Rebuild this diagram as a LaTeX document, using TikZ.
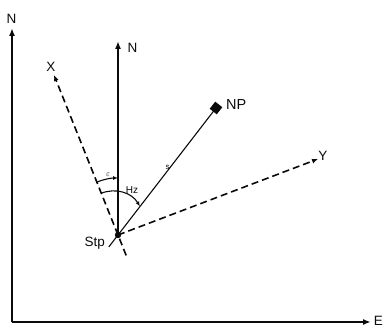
\documentclass[tikz,border=0pt]{standalone}
\usepackage{fontspec}
\setmainfont{Liberation Sans}
\usetikzlibrary{calc,arrows.meta,positioning}
\definecolor{cInk}{RGB}{10,10,10}

\begin{document}
\begin{tikzpicture}[x=1pt,y=1pt,cInk,
  axis/.style={line width=1.8pt,-{Latex[length=8pt,width=6pt]}},
  axdash/.style={line width=1.6pt,dash pattern=on 7pt off 4pt,-{Latex[length=6pt,width=5pt]}},
  lbl/.style={font=\fontsize{13.5}{14}\selectfont,inner sep=0pt},
  small/.style={font=\fontsize{10}{10}\selectfont,inner sep=0pt}]
  \useasboundingbox (0,0) rectangle (384,329);
  % outer frame: north and east
  \coordinate (O) at (12,7);
  \coordinate (Ntop) at (12,301);
  \coordinate (Eend) at (371,7);
  \draw[axis] (O) -- (Ntop);
  \draw[axis] (O) -- (Eend);
  \node[lbl] (nlab) at (11.5,310.5) {N};
  \node[lbl] (elab) at (378.5,8) {E};
  % station and its directions
  \coordinate (stp) at (118,94);
  \coordinate (north) at (118,288);
  \coordinate (xend) at (54,254);
  \coordinate (yend) at (318,170);
  \coordinate (np) at (216,221);
  \coordinate (xext) at ($(stp)!-22pt!(xend)$);
  \coordinate (sext) at ($(stp)!-15pt!(np)$);
  \draw[axis,line width=2pt] (stp) -- (north);
  \draw[axdash] (xext) -- (xend);
  \draw[axdash] (stp) -- (yend);
  \draw[line width=1.1pt] (sext) -- (np);
  \fill (stp) circle (3.2pt);
  \node[fill,rectangle,rotate=52,minimum size=9pt,inner sep=0pt] (npm) at (np) {};
  \node[lbl] (nin) at (132.5,281.5) {N};
  \node[lbl] (xlab) at (51,262) {X};
  \node[lbl] (ylab) at (323,173.5) {Y};
  \node[lbl,anchor=west,font=\fontsize{14.5}{15}\selectfont] (nplab) at (226,224) {NP};
  \node[lbl,anchor=base east] (stplab) at (105,82) {Stp};
  \node[small,font=\fontsize{8}{8}\selectfont] (slab) at (167.5,161.5) {s};
  % angles epsilon and Hz
  \draw[line width=1.1pt,-{Latex[length=5pt,width=4pt]}] ($(stp)+(112:57)$) arc (112:90:57);
  \node[small,font=\fontsize{8.5}{8}\selectfont] (eps) at (108,154) {$\varepsilon$};
  \coordinate (hzs) at ($(stp)!45pt!(xend)$);
  \coordinate (hze) at ($(stp)!36pt!(np)$);
  \draw[line width=1.1pt,-{Latex[length=5pt,width=4pt]}] (hzs) to[bend left=40] (hze);
  \node[small] (hzlab) at (132,139) {Hz};
\end{tikzpicture}
\end{document}
